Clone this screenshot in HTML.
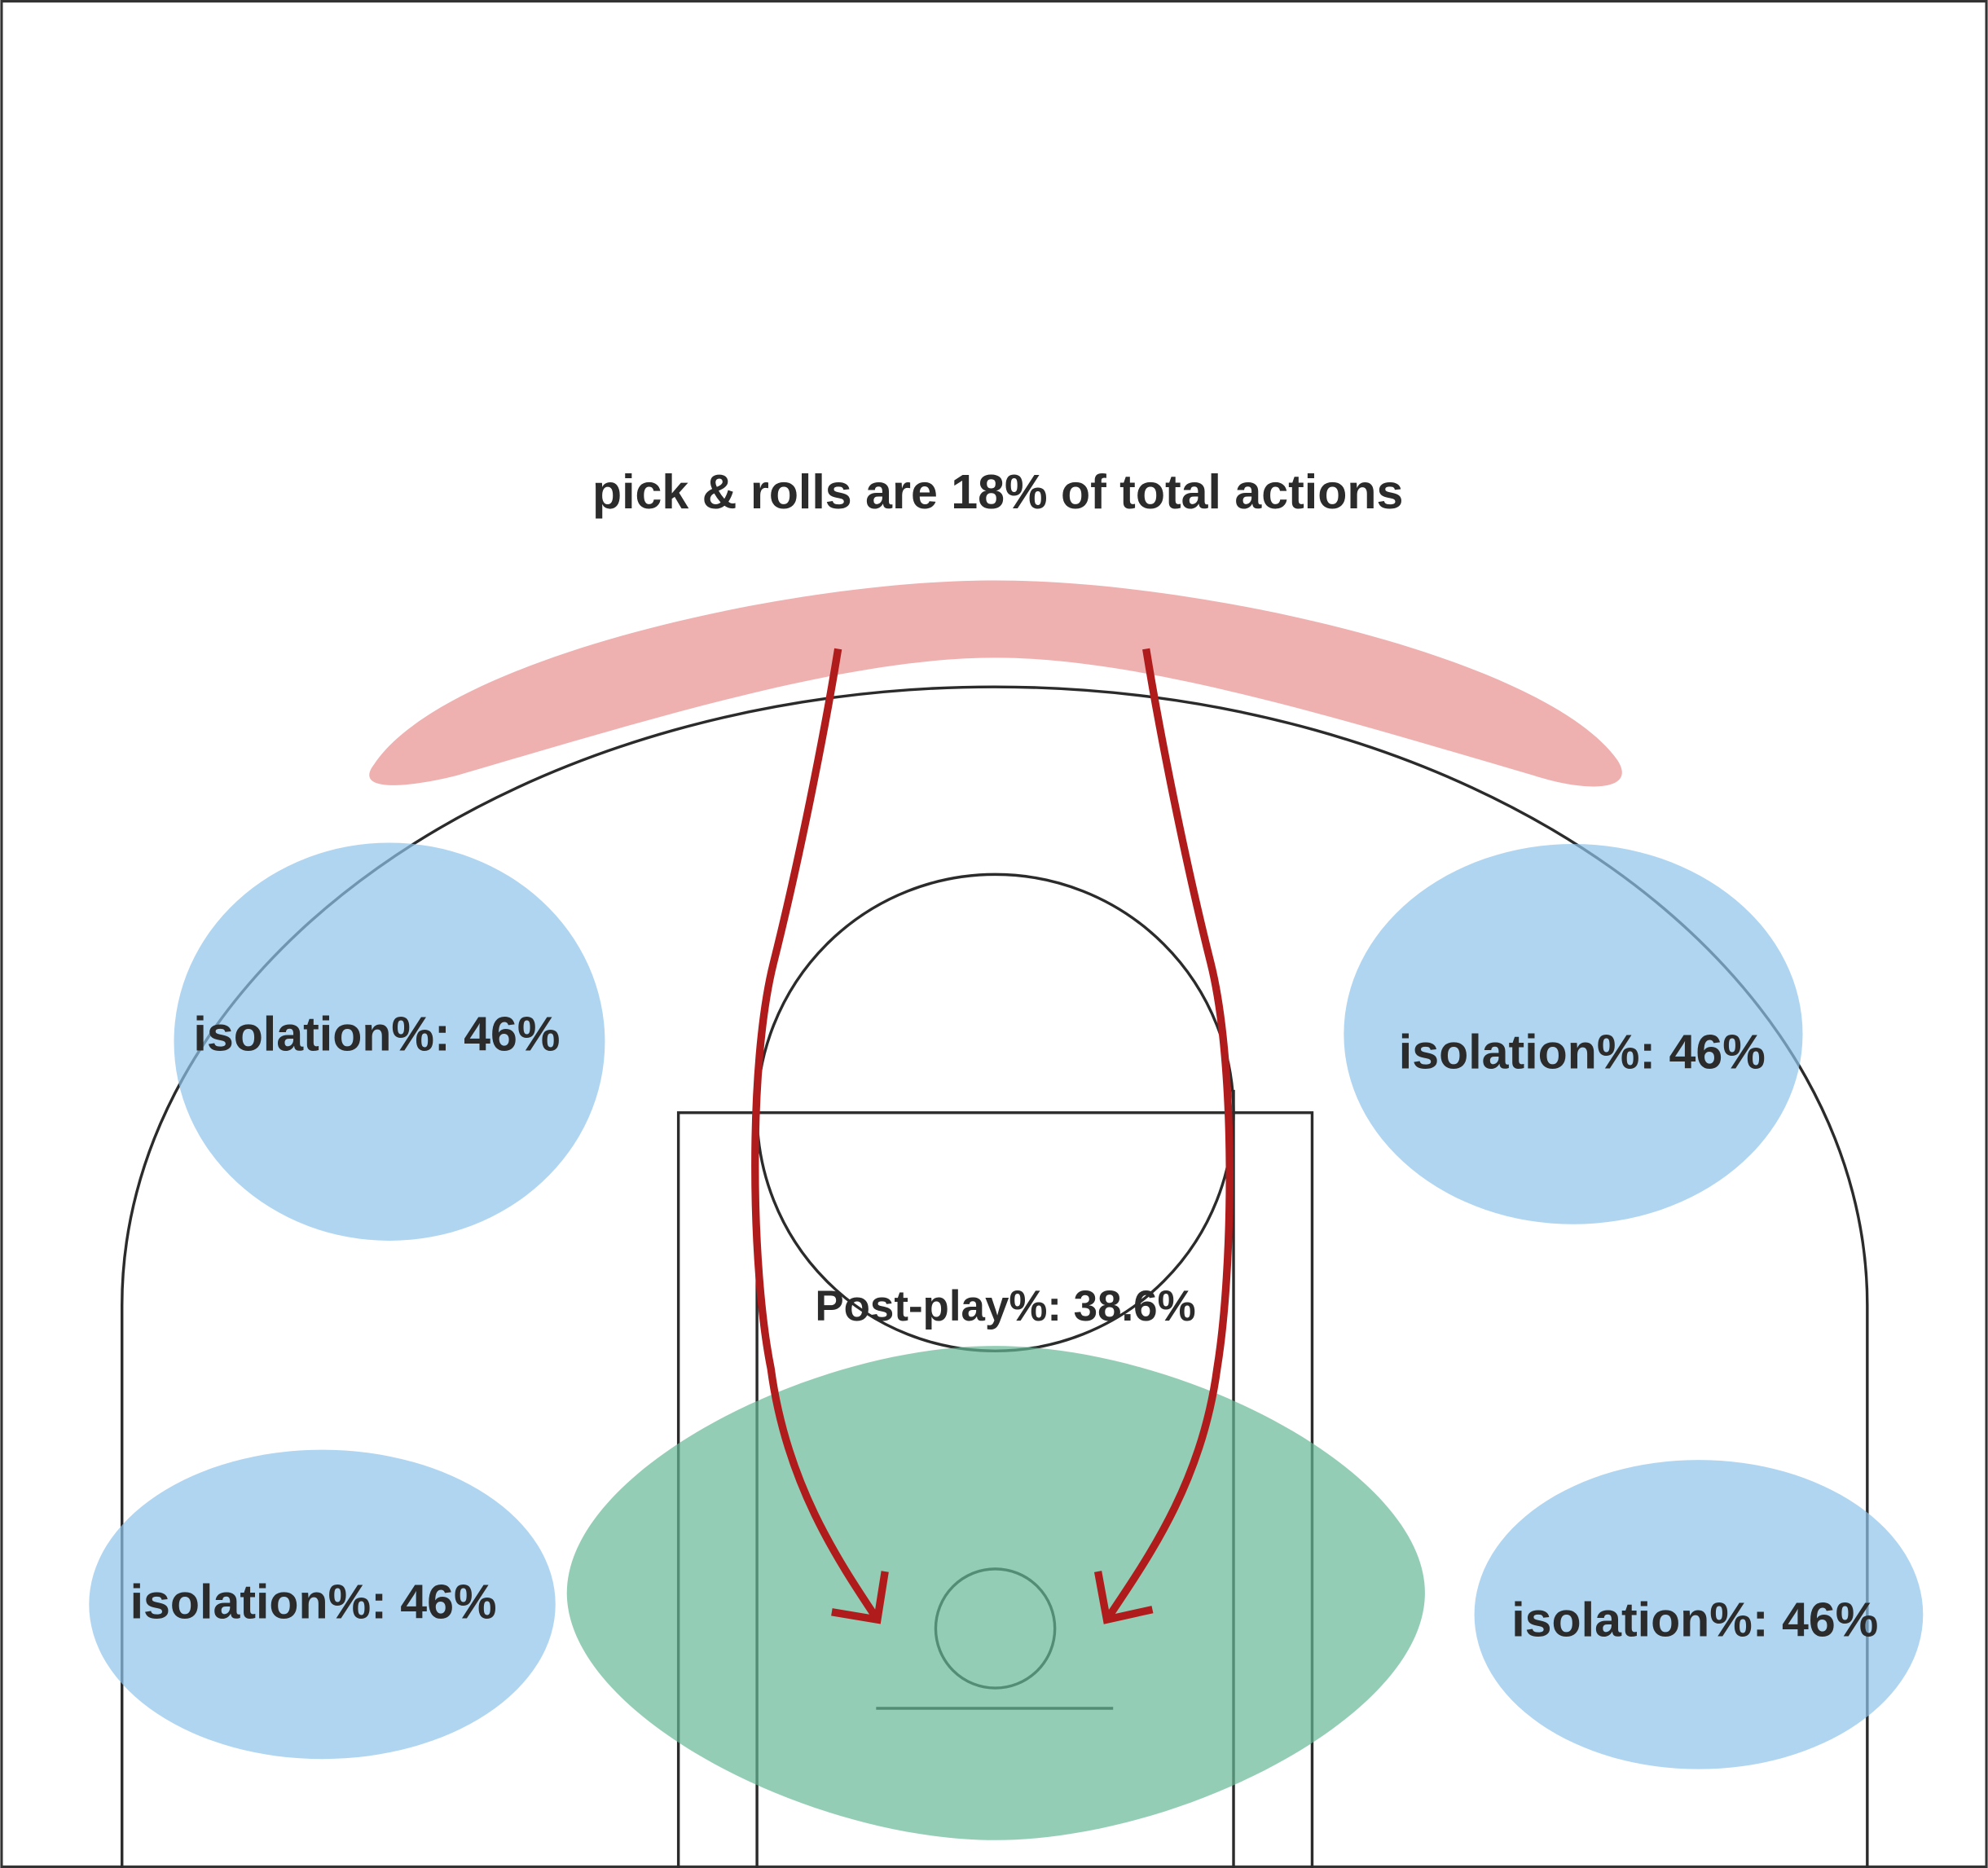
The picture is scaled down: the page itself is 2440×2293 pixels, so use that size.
<!DOCTYPE html>
<html><head><meta charset="utf-8">
<style>
html,body{margin:0;padding:0;background:#fff;}
svg{display:block;}
text{font-family:"Liberation Sans",sans-serif;fill:#2b2b2b;font-weight:bold;}
</style></head>
<body>
<svg id="court" width="2440" height="2293" viewBox="0 0 1568 1474" xmlns="http://www.w3.org/2000/svg">
  <rect x="1" y="1" width="1566" height="1472" fill="#fff" stroke="#333" stroke-width="2"/>
  <g fill="none" stroke="#2b2b2b" stroke-width="2.2">
    <path d="M96,1474 L96,1030 A688.5,488 0 0 1 1473,1030 L1473,1474"/>
    <rect x="535" y="878" width="500" height="600"/>
    <line x1="597" y1="860" x2="597" y2="1474"/>
    <line x1="973" y1="860" x2="973" y2="1474"/>
    <circle cx="785" cy="878" r="188"/>
    <circle cx="785" cy="1285" r="47"/>
    <line x1="691" y1="1348" x2="878" y2="1348"/>
  </g>
  <path fill="#efb0b0" d="M295,603 C350,520 620,458 785,458 C950,458 1220,520 1276,600 C1292,625 1250,625 1210,612 C1050,565 900,519 785,519 C670,519 520,565 360,612 C320,622 278,625 295,603 Z"/>
  <path fill="#66b896" fill-opacity="0.7" d="M447,1257 C447,1160 640,1062 785,1062 C930,1062 1124,1160 1124,1257 C1124,1354 930,1452 785,1452 C640,1452 447,1354 447,1257 Z"/>
  <g id="iso"></g>
  <g fill="none" stroke="#b01c1c" stroke-width="6" stroke-linejoin="miter">
    <path d="M661,512 C650,580 630,680 610,760 C590,840 592,1000 608,1080 C620,1170 660,1230 692,1278"/>
    <path d="M698,1240 L692,1278 L656,1272"/>
    <path d="M904,512 C915,580 935,680 955,760 C975,840 973,1000 960,1080 C948,1170 905,1230 873,1278"/>
    <path d="M866,1240 L873,1278 L909,1270"/>
  </g>
  <text x="787" y="401" font-size="38" text-anchor="middle">pick &amp; rolls are 18% of total actions</text>
  <text x="793" y="1042" font-size="34" text-anchor="middle">Post-play%: 38.6%</text>
</svg>
<script>
const zoneNames = ["iso-top-left","iso-top-right","iso-corner-left","iso-corner-right"];
const zoneValues = [46, 46, 46, 46];
const zoneGeom = [[307,822,170,157],[1241,816,181,150],[254,1266,184,122],[1340,1274,177,122]];
const labelPos = [[297,829],[1248,843],[247,1277],[1337,1291]];
const NS = "http://www.w3.org/2000/svg";
const g = document.getElementById("iso");
const svg = document.getElementById("court");
zoneValues.forEach((v, i) => {
  const [cx, cy, rx, ry] = zoneGeom[i];
  const e = document.createElementNS(NS, "ellipse");
  e.setAttribute("cx", cx); e.setAttribute("cy", cy);
  e.setAttribute("rx", rx); e.setAttribute("ry", ry);
  e.setAttribute("fill", "#8dc3eb"); e.setAttribute("fill-opacity", "0.7");
  
  
  g.appendChild(e);
  const t = document.createElementNS(NS, "text");
  t.setAttribute("x", labelPos[i][0]); t.setAttribute("y", labelPos[i][1]);
  t.setAttribute("font-size", "38"); t.setAttribute("text-anchor", "middle");
  t.textContent = "isolation%: " + v + "%";
  
  
  svg.appendChild(t);
});
</script>
</body></html>
